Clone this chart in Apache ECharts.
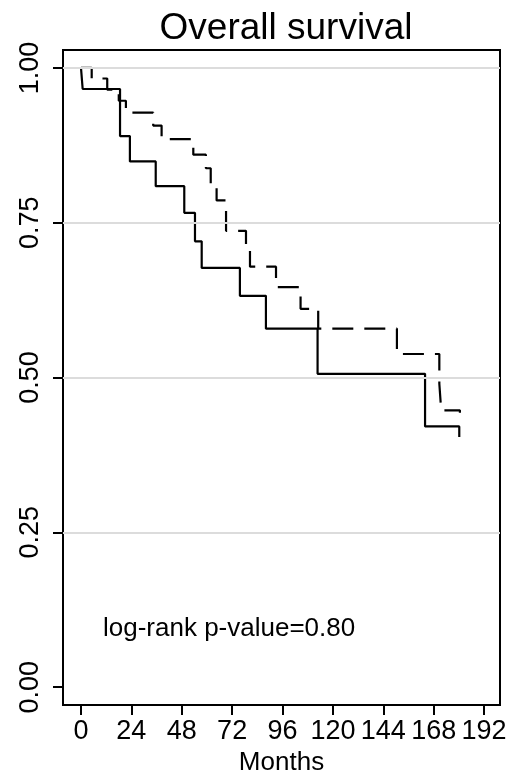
<!DOCTYPE html>
<html>
<head>
<meta charset="utf-8">
<script src="https://cdn.jsdelivr.net/npm/echarts@6/dist/echarts.min.js"></script>
<style>
    html, body { margin: 0; padding: 0; background: #fff; }
    #chart { width: 523px; height: 781px; }
</style>
</head>
<body>
<div id="chart"></div>
<script>
    // survival step points (months, survival after the drop)
    const timesA = [0, 0.8, 18.6, 23.3, 35.6, 49.2, 54.3, 57.5, 75.7, 88.1, 112.7, 163.9, 180.2];
    const survA  = [1.0, 0.966, 0.890, 0.849, 0.809, 0.766, 0.720, 0.677, 0.632, 0.579, 0.506, 0.421, 0.404];

    const timesB = [0, 5.1, 12.5, 18.0, 21.4, 34.4, 38.4, 53.5, 59.5, 61.8, 64.6, 69.1, 78.6, 80.5, 92.9, 104.6, 113.0, 150.5, 170.7, 171.6, 180.5];
    const survB  = [1.0, 0.983, 0.965, 0.947, 0.928, 0.907, 0.885, 0.860, 0.838, 0.812, 0.786, 0.737, 0.712, 0.679, 0.646, 0.611, 0.579, 0.538, 0.490, 0.447, 0.443];

    const xTicks = [0, 24, 48, 72, 96, 120, 144, 168, 192];
    const yTicks = [0, 0.25, 0.5, 0.75, 1.0];
    const yGrid = [0.25, 0.5, 0.75, 1.0];

    const FONT = '"Liberation Sans", Arial, Helvetica, sans-serif';

    let myChart = echarts.init(document.getElementById('chart'));
    myChart.setOption({
        animation: false,
        backgroundColor: '#fff',
        textStyle: { fontFamily: FONT },
        title: {
            text: 'Overall survival',
            left: 281,
            top: 5,
            textAlign: 'center',
            textStyle: { fontFamily: FONT, fontSize: 37, fontWeight: 'normal', color: '#000' }
        },
        grid: {
            left: 63, right: 23, top: 50, bottom: 74,
            show: true,
            borderColor: '#000',
            borderWidth: 2,
            backgroundColor: '#fff'
        },
        xAxis: {
            type: 'value',
            min: -8.57,
            max: 199.6,
            name: 'Months',
            nameLocation: 'middle',
            nameGap: 38,
            nameTextStyle: { fontFamily: FONT, fontSize: 26, color: '#000' },
            axisLine: { show: false, onZero: false },
            axisTick: { show: true, length: 10, customValues: xTicks, lineStyle: { color: '#000', width: 2 } },
            axisLabel: { customValues: xTicks, fontSize: 27, color: '#000', margin: 13, fontFamily: FONT },
            splitLine: { show: false }
        },
        yAxis: {
            type: 'value',
            min: -0.029,
            max: 1.029,
            axisLine: { show: false, onZero: false },
            axisTick: { show: true, length: 10, customValues: yTicks, lineStyle: { color: '#000', width: 2 } },
            axisLabel: {
                customValues: yTicks,
                rotate: 90,
                fontSize: 27,
                color: '#000',
                margin: 19,
                fontFamily: FONT,
                formatter: v => v.toFixed(2)
            },
            splitLine: { show: false }
        },
        graphic: [{
            type: 'text',
            left: 103,
            top: 616,
            style: { text: 'log-rank p-value=0.80', fill: '#000', font: '26px ' + FONT }
        }],
        series: [
            {
                name: 'grid',
                type: 'line',
                data: [],
                z: 1,
                silent: true,
                markLine: {
                    silent: true,
                    symbol: ['none', 'none'],
                    label: { show: false },
                    lineStyle: { color: '#dcdcdc', width: 2, type: 'solid' },
                    data: yGrid.map(v => ({ yAxis: v }))
                }
            },
            {
                name: 'B',
                type: 'line',
                step: 'end',
                symbol: 'none',
                z: 3,
                lineStyle: { color: '#000', width: 2.2, type: [21, 11], cap: 'butt' },
                data: timesB.map((t, i) => [t, survB[i]])
            },
            {
                name: 'A',
                type: 'line',
                step: 'end',
                symbol: 'none',
                z: 4,
                lineStyle: { color: '#000', width: 2.2, type: 'solid' },
                data: timesA.map((t, i) => [t, survA[i]])
            }
        ]
    });
</script>
</body>
</html>
